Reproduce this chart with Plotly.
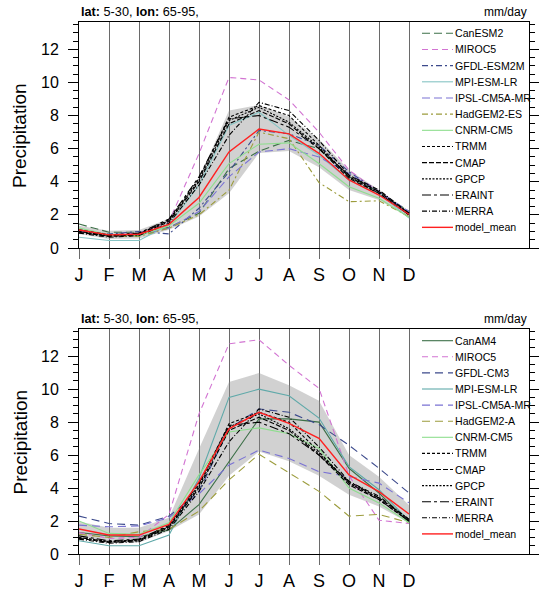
import plotly.graph_objects as go

# ---- data -----------------------------------------------------------------
month_labels = ["J", "F", "M", "A", "M", "J", "J", "A", "S", "O", "N", "D"]
month_idx = list(range(12))

# observations (shared by both panels)
trmm   = [1.00, 0.75, 0.85, 1.70, 4.20, 7.90, 8.60, 8.00, 6.20, 4.30, 3.30, 2.00]
cmap   = [0.95, 0.70, 0.80, 1.60, 4.00, 7.50, 8.30, 7.50, 6.00, 4.20, 3.30, 2.00]
gpcp   = [1.00, 0.75, 0.85, 1.65, 4.10, 7.70, 8.50, 7.60, 6.10, 4.30, 3.40, 2.10]
eraint = [1.10, 0.80, 0.90, 1.75, 4.30, 7.80, 8.00, 7.30, 6.00, 4.40, 3.40, 2.10]
merra  = [0.90, 0.65, 0.75, 1.50, 3.80, 6.80, 8.80, 8.30, 6.50, 4.40, 3.50, 2.10]

# coupled models (upper panel)
canesm2    = [1.45, 0.95, 0.95, 1.25, 2.10, 4.80, 5.85, 6.50, 6.00, 4.30, 3.40, 2.20]
miroc5_c   = [1.10, 0.80, 0.90, 1.60, 5.70, 10.30, 10.15, 8.95, 7.00, 4.70, 3.40, 2.00]
gfdl_esm2m = [1.00, 0.85, 1.00, 0.85, 2.40, 4.60, 7.10, 6.90, 6.20, 4.60, 3.40, 2.10]
mpi_c      = [0.65, 0.45, 0.45, 1.40, 3.80, 7.40, 8.20, 6.80, 5.60, 4.10, 3.30, 1.80]
ipsl_c     = [1.00, 0.80, 0.80, 1.20, 2.20, 4.30, 5.80, 6.00, 5.50, 4.50, 3.40, 2.20]
hadgem2_es = [1.10, 0.70, 0.70, 1.20, 2.00, 3.50, 7.00, 6.60, 3.95, 2.80, 2.85, 1.90]
cnrm_c     = [1.20, 0.80, 0.75, 1.35, 2.70, 5.10, 6.27, 6.35, 5.10, 3.70, 3.00, 1.85]
mean_c     = [1.09, 0.79, 0.83, 1.43, 3.05, 5.80, 7.19, 6.89, 5.72, 4.11, 3.20, 2.04]
std_c      = [0.25, 0.25, 0.25, 0.33, 1.15, 2.50, 1.45, 1.03, 0.85, 0.60, 0.30, 0.20]

# atmosphere-only models (lower panel)
canam4    = [1.30, 1.10, 1.05, 1.45, 3.00, 5.60, 8.20, 8.20, 8.00, 5.20, 3.70, 1.90]
miroc5_a  = [1.30, 0.95, 1.00, 2.40, 8.50, 12.75, 13.00, 11.45, 10.05, 4.75, 2.05, 1.85]
gfdl_cm3  = [2.30, 1.85, 1.75, 2.30, 3.80, 7.60, 8.80, 8.60, 7.85, 6.60, 5.20, 3.70]
mpi_a     = [0.80, 0.50, 0.50, 1.15, 4.60, 9.50, 10.00, 9.60, 8.25, 5.30, 3.90, 2.00]
ipsl_a    = [1.75, 1.65, 1.70, 2.20, 3.65, 5.40, 6.30, 5.80, 5.00, 4.70, 4.30, 3.10]
hadgem2_a = [1.20, 1.00, 1.35, 1.50, 2.60, 4.50, 6.05, 4.90, 3.80, 2.30, 2.40, 1.90]
cnrm_a    = [2.00, 1.25, 1.20, 1.90, 4.80, 7.40, 7.65, 7.30, 6.40, 4.00, 3.10, 1.90]
mean_a    = [1.52, 1.15, 1.15, 1.80, 4.39, 7.59, 8.60, 7.93, 7.02, 4.80, 3.78, 2.43]
std_a     = [0.45, 0.45, 0.45, 0.40, 2.00, 2.85, 2.38, 2.30, 2.28, 1.20, 0.90, 0.55]

# ---- styles ---------------------------------------------------------------
FONT = "Liberation Sans, Arial, Helvetica, sans-serif"
C_GREEN_D = "#3d7048"
C_PINK = "#d274d2"
C_NAVY = "#3c4a8c"
C_TEAL = "#5fa9a9"
C_SLATE = "#7a72d4"
C_OLIVE = "#9c9c3c"
C_LGREEN = "#8ede8e"
C_RED = "#ff2020"

LONGDASH = "8px,4px"
DASH = "6px,4px"
DASHDOT = "6px,3px,2px,3px"
SOLID = "solid"

obs_series = [
    ("TRMM", trmm, "black", "3px,2px"),
    ("CMAP", cmap, "black", "5px,2px"),
    ("GPCP", gpcp, "black", "2px,1.5px"),
    ("ERAINT", eraint, "black", "9px,3px,3px,3px"),
    ("MERRA", merra, "black", "5px,2px,1px,2px"),
]

upper = dict(
    models=[
        ("CanESM2", canesm2, C_GREEN_D, LONGDASH),
        ("MIROC5", miroc5_c, C_PINK, DASH),
        ("GFDL-ESM2M", gfdl_esm2m, C_NAVY, DASHDOT),
        ("MPI-ESM-LR", mpi_c, "#86c4c4", SOLID),
        ("IPSL-CM5A-MR", ipsl_c, C_SLATE, LONGDASH),
        ("HadGEM2-ES", hadgem2_es, C_OLIVE, DASHDOT),
        ("CNRM-CM5", cnrm_c, C_LGREEN, SOLID),
    ],
    mean=mean_c, std=std_c, ax="", top_px=22, bottom_px=248, leg0=33.3, legstep=16.17,
)
lower = dict(
    models=[
        ("CanAM4", canam4, C_GREEN_D, SOLID),
        ("MIROC5", miroc5_a, C_PINK, DASH),
        ("GFDL-CM3", gfdl_cm3, C_NAVY, "8px,5px"),
        ("MPI-ESM-LR", mpi_a, C_TEAL, SOLID),
        ("IPSL-CM5A-MR", ipsl_a, C_SLATE, "8px,5px"),
        ("HadGEM2-A", hadgem2_a, C_OLIVE, "8px,5px"),
        ("CNRM-CM5", cnrm_a, C_LGREEN, SOLID),
    ],
    mean=mean_a, std=std_a, ax="2", top_px=329, bottom_px=554, leg0=340.7, legstep=16.1,
)

W, H = 539, 589
ML, MR, MT, MB = 79, 10, 22, 35
PH = H - MT - MB
PW = W - ML - MR


def py2paper(py):
    return (H - MB - py) / PH


def px2paper(px):
    return (px - ML) / PW


fig = go.Figure()
shapes = []
annotations = []

for panel in (upper, lower):
    xa = "x" + panel["ax"]
    ya = "y" + panel["ax"]
    hi = [m + s for m, s in zip(panel["mean"], panel["std"])]
    lo = [m - s for m, s in zip(panel["mean"], panel["std"])]
    # model spread band
    fig.add_trace(go.Scatter(x=month_idx + month_idx[::-1], y=hi + lo[::-1],
                             fill="toself", fillcolor="rgba(140,140,140,0.4)",
                             line=dict(width=0), mode="lines", hoverinfo="skip",
                             showlegend=False, xaxis=xa, yaxis=ya))
    entries = []
    for name, vals, col, dash in panel["models"]:
        fig.add_trace(go.Scatter(x=month_idx, y=vals, mode="lines", name=name,
                                 line=dict(color=col, width=1.1, dash=dash),
                                 showlegend=False, xaxis=xa, yaxis=ya))
        entries.append((name, col, dash, 1.1))
    for name, vals, col, dash in obs_series:
        fig.add_trace(go.Scatter(x=month_idx, y=vals, mode="lines", name=name,
                                 line=dict(color=col, width=1.1, dash=dash),
                                 showlegend=False, xaxis=xa, yaxis=ya))
        entries.append((name, col, dash, 1.1))
    fig.add_trace(go.Scatter(x=month_idx, y=panel["mean"], mode="lines", name="model_mean",
                             line=dict(color=C_RED, width=1.4),
                             showlegend=False, xaxis=xa, yaxis=ya))
    entries.append(("model_mean", C_RED, SOLID, 1.4))

    # legend drawn inside the frame
    for i, (name, col, dash, w) in enumerate(entries):
        yy = py2paper(panel["leg0"] + i * panel["legstep"])
        shapes.append(dict(type="line", xref="paper", yref="paper",
                           x0=px2paper(422), x1=px2paper(453), y0=yy, y1=yy,
                           line=dict(color=col, width=w, dash=dash)))
        annotations.append(dict(xref="paper", yref="paper", x=px2paper(452.5), y=yy,
                                text=name, showarrow=False, xanchor="left", yanchor="middle",
                                font=dict(family=FONT, size=10.6, color="black")))

    ytop = py2paper(panel["top_px"])
    ybot = py2paper(panel["bottom_px"])
    annotations.append(dict(xref="paper", yref="paper", x=0, y=ytop + 0.002,
                            text="<b>lat:</b> 5-30, <b>lon:</b> 65-95,", showarrow=False,
                            xanchor="left", yanchor="bottom",
                            font=dict(family=FONT, size=12.7, color="black")))
    annotations.append(dict(xref="paper", yref="paper", x=1, y=ytop + 0.002,
                            text="mm/day", showarrow=False,
                            xanchor="right", yanchor="bottom",
                            font=dict(family=FONT, size=12, color="black")))
    annotations.append(dict(xref="paper", yref="paper", x=px2paper(20), y=(ytop + ybot) / 2,
                            text="Precipitation", showarrow=False, textangle=-90,
                            xanchor="center", yanchor="middle",
                            font=dict(family=FONT, size=19, color="black")))

    xaxis = dict(range=[0, 15], tickmode="array", tickvals=month_idx, ticktext=month_labels,
                 showgrid=True, gridcolor="#6a6a6a", gridwidth=1,
                 ticks="outside", ticklen=10, tickcolor="#6a6a6a", tickwidth=1,
                 automargin=False,
                 showline=True, linecolor="black", linewidth=1, mirror=True,
                 zeroline=False, tickfont=dict(family=FONT, size=18, color="black"),
                 anchor=ya, domain=[0, 1], fixedrange=True)
    yaxis = dict(range=[0, 13.65], tickmode="array", tickvals=[0, 2, 4, 6, 8, 10, 12],
                 showgrid=False, zeroline=False,
                 ticks="outside", ticklen=10, tickcolor="black", tickwidth=1,
                 ticklabelstandoff=6, automargin=False,
                 minor=dict(dtick=0.5, ticks="outside", ticklen=5, tickcolor="black",
                            showgrid=False, tick0=0),
                 showline=True, linecolor="black", linewidth=1, mirror="allticks",
                 tickfont=dict(family=FONT, size=16, color="black"),
                 anchor=xa, domain=[ybot, ytop], fixedrange=True)
    if panel["ax"] == "":
        fig.update_layout(xaxis=xaxis, yaxis=yaxis)
    else:
        fig.update_layout(xaxis2=xaxis, yaxis2=yaxis)

fig.update_layout(
    width=W, height=H,
    margin=dict(l=ML, r=MR, t=MT, b=MB, pad=0, autoexpand=False),
    paper_bgcolor="white", plot_bgcolor="white",
    showlegend=False, shapes=shapes, annotations=annotations,
    font=dict(family=FONT, color="black"),
)

fig.write_html("out.html")
